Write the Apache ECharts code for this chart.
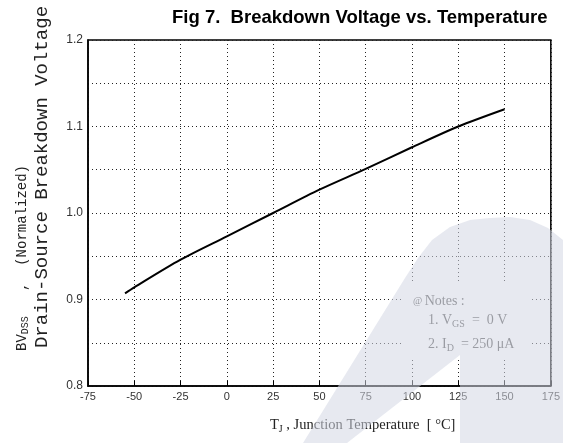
<!DOCTYPE html>
<html>
<head>
<meta charset="utf-8">
<script src="https://cdn.jsdelivr.net/npm/echarts@6/dist/echarts.min.js"></script>
<style>
html,body{margin:0;padding:0;background:#fff;}
#chart{width:563px;height:443px;}
</style>
</head>
<body>
<div id="chart"></div>
<script>
// Data
var tempC = [-55, -50, -25, 0, 25, 50, 75, 100, 125, 150];
var bvNorm = [0.907, 0.914, 0.946, 0.973, 1.0, 1.027, 1.051, 1.076, 1.1, 1.12];
var xTicks = [-75, -50, -25, 0, 25, 50, 75, 100, 125, 150, 175];
var yTickLabels = ['0.8', '0.9', '1.0', '1.1', '1.2'];

var chart = echarts.init(document.getElementById('chart'), null, {renderer: 'canvas'});
var pts = tempC.map(function (t, i) { return [t, bvNorm[i]]; });

var option = {
  animation: false,
  backgroundColor: '#fff',
  grid: {left: 88, right: 12, top: 40, bottom: 57, show: true, borderColor: '#000', borderWidth: 1.5, backgroundColor: 'transparent'},
  xAxis: {
    type: 'value', min: xTicks[0], max: xTicks[xTicks.length - 1], interval: 25,
    axisLine: {show: true, onZero: false, lineStyle: {color: '#000', width: 1.5}},
    axisTick: {show: true, inside: true, length: 5, lineStyle: {color: '#000'}},
    axisLabel: {color: '#333', fontFamily: 'Liberation Sans Narrow, Liberation Sans', fontSize: 11, margin: 5,
      formatter: function (v) { return String(v); }},
    splitLine: {show: true, lineStyle: {color: '#222', type: [1, 3], width: 1}}
  },
  yAxis: {
    type: 'value', min: 0.8, max: 1.2, interval: 0.05,
    axisLine: {show: true, onZero: false, lineStyle: {color: '#000', width: 1.5}},
    axisTick: {show: false},
    axisLabel: {color: '#333', fontFamily: 'Liberation Sans', fontSize: 12, margin: 5,
      formatter: function (v) {
        var k = Math.round(v * 100);
        if (k % 10 !== 0) return '';
        var s = (k / 100).toFixed(1);
        return yTickLabels.indexOf(s) >= 0 ? s : '';
      }},
    splitLine: {show: true, lineStyle: {color: '#222', type: [1, 3], width: 1}}
  },
  series: [{
    type: 'line', data: pts, showSymbol: false, smooth: 0.3,
    lineStyle: {color: '#000', width: 2}, z: 5
  }],
  graphic: [
    {type: 'text', x: 172, y: 8, style: {text: 'Fig 7.  Breakdown Voltage vs. Temperature', font: 'bold 18.5px "Liberation Sans", Arial', fill: '#000', textVerticalAlign: 'top'}},
    {type: 'text', x: 42, y: 177, rotation: Math.PI / 2,
      style: {text: 'Drain-Source Breakdown Voltage', font: '19px "Liberation Mono", monospace', fill: '#222', textAlign: 'center', textVerticalAlign: 'middle'}},
    {type: 'text', x: 22, y: 258, rotation: Math.PI / 2,
      style: {text: '{a|BV}{s|DSS}{a|   ,  (Normalized)}', textAlign: 'center', textVerticalAlign: 'middle',
        rich: {a: {font: '14px "Liberation Mono", monospace', fill: '#222'}, s: {font: '10px "Liberation Mono", monospace', fill: '#222', padding: [7, 0, 0, 0]}}}},
    {type: 'text', x: 270, y: 425,
      style: {text: '{a|T}{s|J}{a| , Junction Temperature  [ °C]}', textAlign: 'left', textVerticalAlign: 'middle',
        rich: {a: {font: '14.5px "Liberation Serif", serif', fill: '#222'}, s: {font: '10px "Liberation Serif", serif', fill: '#222', padding: [8, 0, 0, 0]}}}},
    {type: 'rect', shape: {x: 404, y: 284, width: 128, height: 76}, style: {fill: '#fff'}, z: 10},
    {type: 'text', x: 413, y: 301, z: 11, style: {text: '{t|@ }{a|Notes :}', textVerticalAlign: 'middle',
      rich: {t: {font: '10px "Liberation Serif", serif', fill: '#555'}, a: {font: '14px "Liberation Serif", serif', fill: '#555'}}}},
    {type: 'text', x: 428, y: 320, z: 11, style: {text: '{a|1. V}{s|GS}{a|  =  0 V}', textVerticalAlign: 'middle',
      rich: {a: {font: '14px "Liberation Serif", serif', fill: '#555'}, s: {font: '10px "Liberation Serif", serif', fill: '#555', padding: [8, 0, 0, 0]}}}},
    {type: 'text', x: 428, y: 344, z: 11, style: {text: '{a|2. I}{s|D}{a|  = 250 μA}', textVerticalAlign: 'middle',
      rich: {a: {font: '14px "Liberation Serif", serif', fill: '#555'}, s: {font: '10px "Liberation Serif", serif', fill: '#555', padding: [8, 0, 0, 0]}}}},
    {type: 'polygon', z: 20, shape: {points: [[303, 443], [405, 278], [418, 258], [432, 240], [450, 227], [470, 220], [490, 218], [510, 217], [530, 220], [548, 228], [563, 240], [563, 443], [460, 443], [460, 355], [347, 443]]},
      style: {fill: 'rgba(212,215,228,0.55)'}}
  ]
};
chart.setOption(option);
</script>
</body>
</html>
